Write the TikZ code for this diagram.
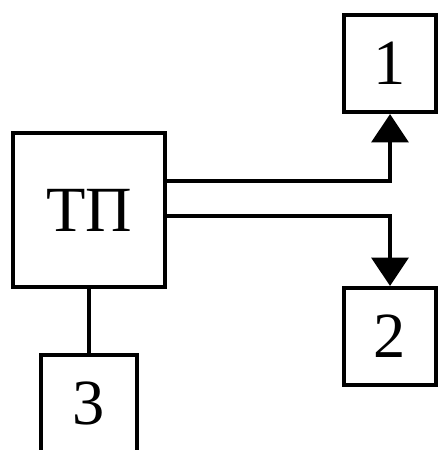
\documentclass[tikz,border=0pt]{standalone}
\usepackage{fontspec}
\setmainfont{Liberation Serif}
\usetikzlibrary{arrows.meta}
\tikzset{
  blk/.style={draw,line width=3.5pt,inner sep=0pt,font=\fontsize{55}{60}\selectfont},
  arr/.style={-{Triangle[width=1.1cm,length=.85cm]}}
}
\begin{document}
\begin{tikzpicture}[x=.03cm,y=-.03cm,line width=3.5pt]
\useasboundingbox (0,0) rectangle (437,450);
\node[blk,minimum width=4.56cm,minimum height=4.62cm] (tp) at (89,210) {ТП};
\node[blk,minimum width=2.76cm,minimum height=2.91cm] (b1) at (390,63.5) {1};
\node[blk,minimum width=2.76cm,minimum height=2.91cm] (b2) at (390,336.5) {2};
\node[blk,minimum width=2.88cm,minimum height=2.91cm] (b3) at (89,403.5) {3};
\draw[arr] ([yshift=.87cm]tp.east) -| (b1.south);
\draw[arr] ([yshift=-.18cm]tp.east) -| (b2.north);
\draw (tp.south) -- (b3.north);
\end{tikzpicture}
\end{document}
